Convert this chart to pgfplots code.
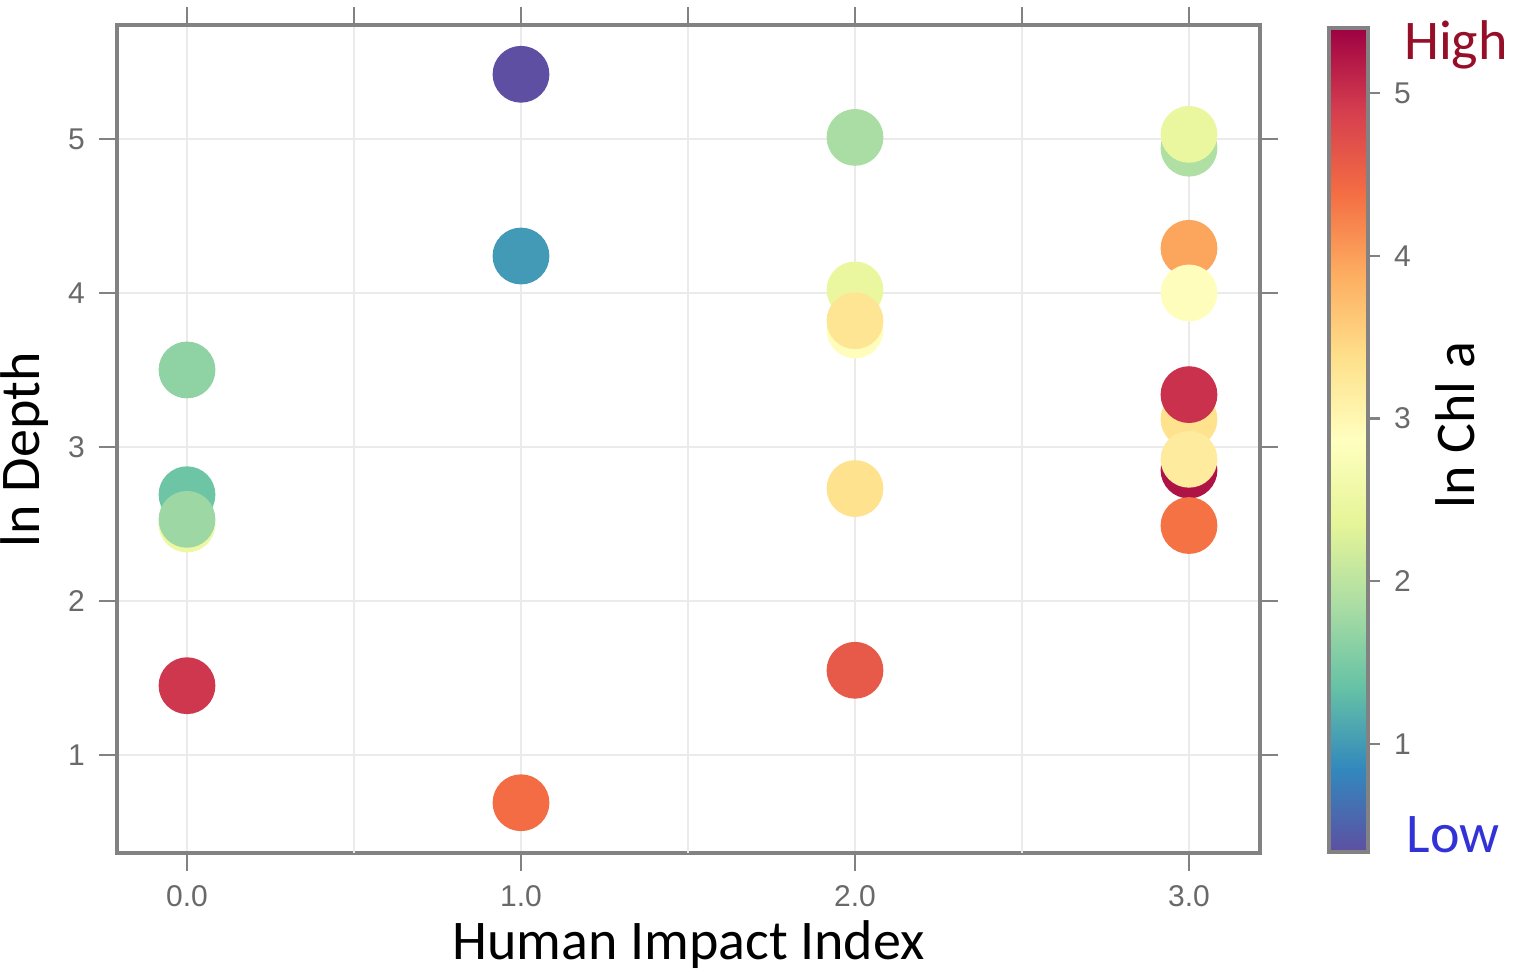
\documentclass[border=0pt]{standalone}
\usepackage{pgfplots}
\pgfplotsset{compat=1.18}
\usepackage{pgfplotstable}
\usepackage{fontspec}
\setmainfont{Carlito}
\newfontfamily\tickfont{Liberation Sans}
\definecolor{axgray}{RGB}{130,130,130}
\definecolor{tickgray}{RGB}{105,105,105}
\definecolor{gridgray}{RGB}{235,235,235}
\definecolor{hicol}{RGB}{150,15,40}
\definecolor{locol}{RGB}{50,50,215}
\pgfplotsset{colormap={spectralr}{rgb255=(94,79,162) rgb255=(50,136,189) rgb255=(102,194,165) rgb255=(171,221,164) rgb255=(230,245,152) rgb255=(255,255,191) rgb255=(254,224,139) rgb255=(253,174,97) rgb255=(244,109,67) rgb255=(213,62,79) rgb255=(158,1,66)}}
\pgfplotstableread{
x y c
0 3.50 1.65
0 2.69 1.40
0 2.50 2.50
0 2.53 1.75
0 1.45 4.95
1 5.42 0.34
1 4.24 1.00
1 0.69 4.40
2 5.01 1.85
2 4.02 2.45
2 3.76 2.90
2 3.82 3.30
2 2.73 3.35
2 1.55 4.60
3 4.94 1.90
3 5.03 2.45
3 4.29 3.95
3 4.00 2.90
3 3.18 3.35
3 3.34 5.00
3 2.85 5.25
3 2.92 3.20
3 2.49 4.35
}\pts
\begin{document}
\begin{tikzpicture}
\path[use as bounding box] (-29.25bp,-30bp) rectangle (349bp,213.25bp);
\begin{axis}[
  scale only axis, width=285.75bp, height=207bp,
  xmin=-0.2096, xmax=3.2126, ymin=0.3636, ymax=5.740,
  xtick={0,1,2,3}, xticklabels={0.0,1.0,2.0,3.0},
  extra x ticks={0.5,1.5,2.5}, extra x tick labels={},
  extra x tick style={major tick length=0pt, grid=major},
  xtick pos=bottom,
  ytick={1,2,3,4,5},
  tick align=outside, major tick length=4.5bp,
  grid=major, grid style={draw=gridgray, line width=0.5bp},
  axis line style={draw=axgray, line width=0.8bp},
  tick style={draw=axgray, line width=0.6bp},
  ticklabel style={font=\tickfont\fontsize{7.5bp}{9bp}\selectfont, text=tickgray},
  /pgf/number format/assume math mode=true,
  xlabel={Human Impact Index}, ylabel={ln Depth},
  label style={font=\fontsize{14bp}{16bp}\selectfont},
  xlabel style={at={(axis description cs:0.5,-0.111)}, anchor=center},
  ylabel style={at={(axis description cs:-0.0805,0.487)}, anchor=center},
  colormap name=spectralr,
  point meta min=0.336, point meta max=5.40,
  colorbar,
  colorbar/width=9.75bp,
  colorbar style={
    at={(parent axis.north east)}, anchor=north west, xshift=8.75bp, yshift=-0.75bp,
    scale only axis, height=206bp,
    ytick={1,2,3,4,5}, ytick pos=right, yticklabel pos=right,
    tick align=outside, major tick length=3bp,
    axis line style={draw=axgray, line width=0.8bp},
    tick style={draw=axgray, line width=0.6bp},
    yticklabel style={font=\tickfont\fontsize{7.5bp}{9bp}\selectfont, text=tickgray},
    /pgf/number format/assume math mode=true,
  },
]
\addplot[scatter, only marks, mark=*, mark size=6.9bp, point meta=explicit,
  scatter/use mapped color={draw=mapped color, fill=mapped color}]
  table[x=x, y=y, meta=c] {\pts};
\end{axis}
\begin{axis}[
  scale only axis, width=285.75bp, height=207bp,
  xmin=-0.2096, xmax=3.2126, ymin=0.3636, ymax=5.740,
  axis x line*=top, axis y line=none,
  xtick={0,0.5,...,3}, xticklabels={},
  tick align=outside, major tick length=4.5bp,
  axis line style={draw=axgray, line width=0.8bp, -},
  tick style={draw=axgray, line width=0.6bp},
]
\end{axis}
\node[font=\fontsize{14bp}{16bp}\selectfont, rotate=90] at (334.5bp,107bp) {ln Chl a};
\node[font=\fontsize{14bp}{16bp}\selectfont, text=hicol] at (334.75bp,202bp) {High};
\node[font=\fontsize{14bp}{16bp}\selectfont, text=locol] at (334bp,4.5bp) {Low};
\end{tikzpicture}
\end{document}
